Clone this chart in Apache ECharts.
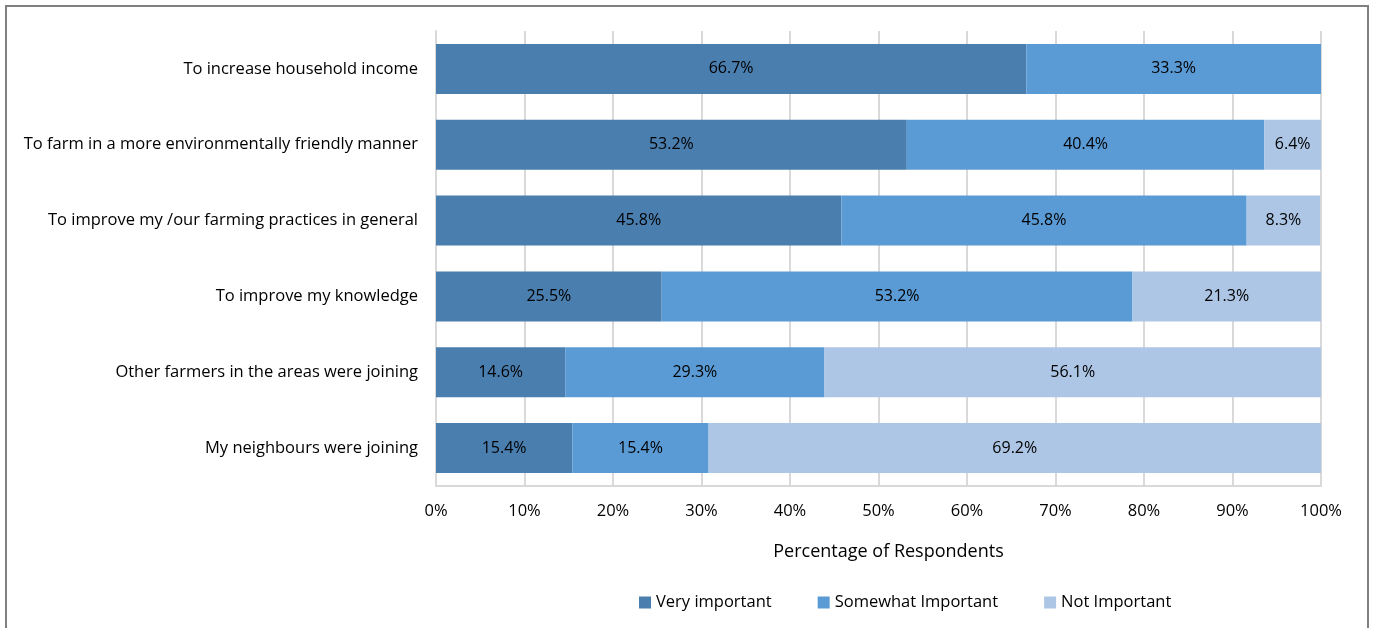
<!DOCTYPE html>
<html>
<head>
<meta charset="utf-8">
<script src="https://cdn.jsdelivr.net/npm/echarts@6/dist/echarts.min.js"></script>
<style>
	html, body { margin: 0; padding: 0; background: #fff; overflow: hidden; }
	#chart { width: 1375px; height: 628px; }
	#frame {
		position: absolute; left: 5px; top: 5px; width: 1364px; height: 640px;
		border: 2px solid #808080; pointer-events: none; box-sizing: border-box;
	}
</style>
</head>
<body>
<div id="chart"></div>
<div id="frame"></div>
<script>
	// reasons, top to bottom as drawn
	var categories = [
		"To increase household income",
		"To farm in a more environmentally friendly manner",
		"To improve my /our farming practices in general",
		"To improve my knowledge",
		"Other farmers in the areas were joining",
		"My neighbours were joining"
	];
	var veryImportant = [66.7, 53.2, 45.8, 25.5, 14.6, 15.4];
	var somewhatImportant = [33.3, 40.4, 45.8, 53.2, 29.3, 15.4];
	var notImportant = [0, 6.4, 8.3, 21.3, 56.1, 69.2];
	var seriesNames = ["Very important", "Somewhat Important", "Not Important"];
	var xTicks = [0, 10, 20, 30, 40, 50, 60, 70, 80, 90, 100];

	var font = "Open Sans";
	var colors = ["#4a7eaf", "#5b9bd5", "#adc6e6"];

	var myChart = echarts.init(document.getElementById('chart'));

	function makeSeries(name, data, color) {
		return {
			name: name,
			type: 'bar',
			stack: 'total',
			barCategoryGap: '34%',
			data: data,
			itemStyle: { color: color },
			label: {
				show: true,
				position: 'inside',
				color: '#000',
				fontFamily: font,
				fontSize: 16,
				formatter: function (p) {
					return p.value > 0 ? p.value.toFixed(1) + '%' : '';
				}
			}
		};
	}

	var option = {
		animation: false,
		textStyle: { fontFamily: font },
		legend: {
			data: seriesNames,
			left: 634,
			top: 589,
			itemWidth: 12,
			itemHeight: 12,
			itemGap: 46,
			icon: 'rect',
			textStyle: { fontFamily: font, fontSize: 16.5, color: '#000', padding: [0, 0, 0, 0] }
		},
		grid: {
			left: 436,
			right: 54,
			top: 31,
			bottom: 142
		},
		xAxis: {
			type: 'value',
			min: xTicks[0],
			max: xTicks[xTicks.length - 1],
			interval: 10,
			name: 'Percentage of Respondents',
			nameLocation: 'middle',
			nameGap: 57,
			nameTextStyle: { fontFamily: font, fontSize: 18, color: '#000', padding: [0, 0, 0, 20] },
			axisLine: { show: true, lineStyle: { color: '#d9d9d9', width: 2 } },
			axisTick: { show: false },
			axisLabel: {
				margin: 17,
				color: '#000',
				fontFamily: font,
				fontSize: 16.5,
				formatter: '{value}%'
			},
			splitLine: { show: true, lineStyle: { color: '#d9d9d9', width: 2 } }
		},
		yAxis: {
			type: 'category',
			inverse: true,
			data: categories,
			axisLine: { show: true, lineStyle: { color: '#d9d9d9', width: 2 } },
			axisTick: { show: false },
			axisLabel: {
				margin: 18,
				color: '#000',
				fontFamily: font,
				fontSize: 16.5
			}
		},
		series: [
			makeSeries(seriesNames[0], veryImportant, colors[0]),
			makeSeries(seriesNames[1], somewhatImportant, colors[1]),
			makeSeries(seriesNames[2], notImportant, colors[2])
		]
	};

	myChart.setOption(option);
</script>
</body>
</html>
